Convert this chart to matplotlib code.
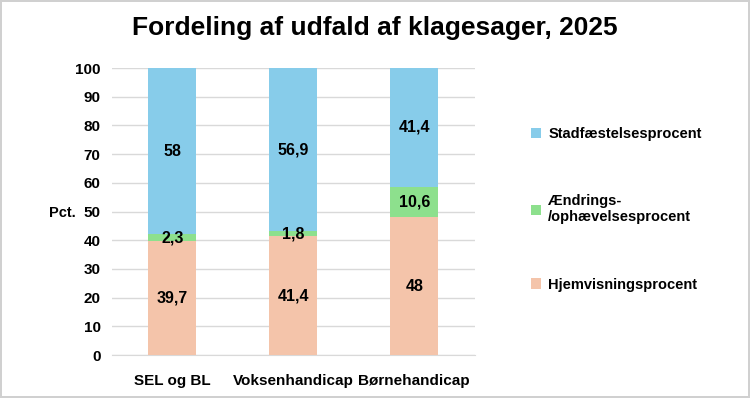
import matplotlib
matplotlib.use("Agg")
import matplotlib.pyplot as plt
import numpy as np

categories = ["SEL og BL", "Voksenhandicap", "Børnehandicap"]
hjemvisning = [39.7, 41.4, 48]
aendring = [2.3, 1.8, 10.6]
stadfaestelse = [58, 56.9, 41.4]
series_names = ["Hjemvisningsprocent", "Ændrings-\n/ophævelsesprocent", "Stadfæstelsesprocent"]
colors = ["#F4C4AA", "#8DE08D", "#87CCEA"]

plt.rcParams['font.family'] = ['Liberation Sans', 'DejaVu Sans']

fig = plt.figure(figsize=(7.5, 3.98), dpi=100)
fig.patch.set_edgecolor("#D0D0D0")
fig.patch.set_linewidth(1.5)
ax = fig.add_axes([0.149, 0.108, 0.484, 0.721])

x = np.arange(len(categories))
bottom = np.zeros(len(categories))
bars = []
for vals, name, col in zip([hjemvisning, aendring, stadfaestelse], series_names, colors):
    b = ax.bar(x, vals, 0.4, bottom=bottom, color=col, label=name, zorder=3)
    bars.append(b)
    labels = [f"{v:g}".replace(".", ",") for v in vals]
    ax.bar_label(b, labels=labels, label_type="center", fontsize=11.5,
                 fontweight="bold", color="black", zorder=4)
    bottom += np.array(vals)

ax.set_xlim(-0.5, 2.5)
ax.set_ylim(0, 100)
ax.set_yticks(range(0, 101, 10))
ax.set_xticks(x)
ax.set_xticklabels(categories, fontsize=11, fontweight="bold")
for t in ax.get_yticklabels():
    t.set_fontsize(11)
    t.set_fontweight("bold")
ax.tick_params(length=0, pad=8)
ax.tick_params(axis="x", pad=14)
ax.grid(axis="y", color="#D9D9D9", linewidth=1, zorder=0)
for s in ["top", "right", "left"]:
    ax.spines[s].set_visible(False)
ax.spines["bottom"].set_color("#D9D9D9")

fig.text(0.065, 0.465, "Pct.", fontsize=10.5, fontweight="bold", ha="left", va="center")
fig.suptitle("Fordeling af udfald af klagesager, 2025", x=0.5, y=0.96,
             fontsize=19, fontweight="bold")

handles = bars[::-1]
labels = series_names[::-1]
leg = fig.legend(handles, labels, loc="upper left", bbox_to_anchor=(0.69, 0.714),
                 frameon=False, fontsize=10.5, handlelength=0.7, handleheight=0.7,
                 handletextpad=0.5, labelspacing=3.65)
for t in leg.get_texts():
    t.set_fontweight("bold")

fig.savefig("out.png", dpi=100)
